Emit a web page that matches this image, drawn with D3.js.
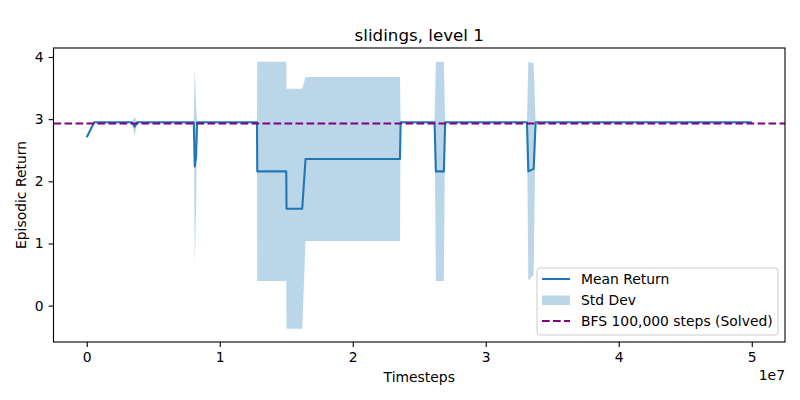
<!DOCTYPE html>
<html>
<head>
<meta charset="utf-8">
<script src="https://cdn.jsdelivr.net/npm/d3@7"></script>
<style>
  body { margin: 0; background: #fff; }
  svg { font-family: "DejaVu Sans", sans-serif; }
</style>
</head>
<body>
<div class="chart"></div>
<script>
// timesteps (x 1e7), mean episodic return, std dev
var steps = [0, 0.056, 0.34, 0.36, 0.38, 0.805, 0.812, 0.822, 0.83, 1.28, 1.282, 1.50, 1.502,
             1.62, 1.645, 2.355, 2.36, 2.615, 2.625, 2.685, 2.695, 3.31, 3.32, 3.36, 3.375, 5.0];
var meanReturn = [2.71, 2.95, 2.95, 2.88, 2.95, 2.95, 2.24, 2.40, 2.95, 2.95, 2.16, 2.16, 1.56,
                  1.56, 2.36, 2.36, 2.95, 2.95, 2.16, 2.16, 2.95, 2.95, 2.16, 2.20, 2.95, 2.95];
var stdDev = [0, 0, 0, 0.15, 0, 0, 1.59, 0.8, 0, 0, 1.765, 1.765, 1.93,
              1.93, 1.32, 1.32, 0, 0, 1.765, 1.765, 0, 0, 1.765, 1.7, 0, 0];
var bfsSolved = 2.93;
var xTicks = [0, 1, 2, 3, 4, 5];
var yTicks = [0, 1, 2, 3, 4];

var width = 800, height = 400;
var margin = {left: 53.5, right: 15, top: 48, bottom: 58};

var data = steps.map(function(s, i){
    return {t: s, m: meanReturn[i], s: stdDev[i]};
});

var svg = d3.select("div.chart")
    .append("svg")
    .attr("width", width)
    .attr("height", height);

var x = d3.scaleLinear()
    .domain([-0.25, 5.25])
    .range([margin.left, width - margin.right]);
var y = d3.scaleLinear()
    .domain([-0.585, 4.145])
    .range([height - margin.bottom, margin.top]);

var blue = "#1f77b4";
var dash = "7.7,3.3";

svg.append("path")
    .datum(data)
    .attr("fill", blue)
    .attr("fill-opacity", 0.3)
    .attr("d", d3.area()
        .x(function(d){return x(d.t);})
        .y0(function(d){return y(d.m - d.s);})
        .y1(function(d){return y(d.m + d.s);}));

svg.append("path")
    .datum(data)
    .attr("fill", "none")
    .attr("stroke", blue)
    .attr("stroke-width", 2.08)
    .attr("stroke-linejoin", "round")
    .attr("d", d3.line()
        .x(function(d){return x(d.t);})
        .y(function(d){return y(d.m);}));

svg.append("line")
    .attr("x1", margin.left)
    .attr("x2", width - margin.right)
    .attr("y1", y(bfsSolved))
    .attr("y2", y(bfsSolved))
    .attr("stroke", "purple")
    .attr("stroke-width", 2.08)
    .attr("stroke-dasharray", dash);

// axes
var xAxis = svg.append("g")
    .attr("transform", "translate(0," + (height - margin.bottom) + ")")
    .call(d3.axisBottom(x).tickValues(xTicks).tickSizeOuter(0).tickSize(4.9).tickPadding(4.9)
        .tickFormat(d3.format("d")));
var yAxis = svg.append("g")
    .attr("transform", "translate(" + margin.left + ",0)")
    .call(d3.axisLeft(y).tickValues(yTicks).tickSizeOuter(0).tickSize(4.9).tickPadding(4.9)
        .tickFormat(d3.format("d")));
[xAxis, yAxis].forEach(function(a){
    a.selectAll("text").attr("font-size", "13.9px").attr("fill", "#000")
        .attr("font-family", "DejaVu Sans");
    a.selectAll("line").attr("stroke", "#000").attr("stroke-width", 1.1);
    a.select(".domain").remove();
});

// frame
svg.append("rect")
    .attr("x", margin.left)
    .attr("y", margin.top)
    .attr("width", width - margin.left - margin.right)
    .attr("height", height - margin.top - margin.bottom)
    .attr("fill", "none")
    .attr("stroke", "#000")
    .attr("stroke-width", 1.1);

svg.append("text")
    .attr("x", (margin.left + width - margin.right) / 2)
    .attr("y", 41)
    .attr("text-anchor", "middle")
    .attr("font-size", "16.7px")
    .text("slidings, level 1");

svg.append("text")
    .attr("x", (margin.left + width - margin.right) / 2)
    .attr("y", 382)
    .attr("text-anchor", "middle")
    .attr("font-size", "13.9px")
    .text("Timesteps");

svg.append("text")
    .attr("transform", "translate(26," + ((margin.top + height - margin.bottom) / 2) + ") rotate(-90)")
    .attr("text-anchor", "middle")
    .attr("font-size", "13.9px")
    .text("Episodic Return");

svg.append("text")
    .attr("x", width - margin.right)
    .attr("y", 380)
    .attr("text-anchor", "end")
    .attr("font-size", "13.9px")
    .text("1e7");

// legend
var legend = svg.append("g").attr("transform", "translate(537,268)");
legend.append("rect")
    .attr("width", 241)
    .attr("height", 67)
    .attr("rx", 3)
    .attr("fill", "#fff")
    .attr("fill-opacity", 0.8)
    .attr("stroke", "#cccccc");
var items = ["Mean Return", "Std Dev", "BFS 100,000 steps (Solved)"];
items.forEach(function(name, i){
    var yy = 11 + i * 21;
    if (i == 1) {
        legend.append("rect")
            .attr("x", 5).attr("y", yy - 4.5)
            .attr("width", 28).attr("height", 9.5)
            .attr("fill", blue).attr("fill-opacity", 0.3);
    } else {
        legend.append("line")
            .attr("x1", 5).attr("x2", 33)
            .attr("y1", yy).attr("y2", yy)
            .attr("stroke", i == 0 ? blue : "purple")
            .attr("stroke-width", 2.08)
            .attr("stroke-dasharray", i == 2 ? dash : null);
    }
    legend.append("text")
        .attr("x", 44)
        .attr("y", yy + 5)
        .attr("font-size", "13.9px")
        .text(name);
});
</script>
</body>
</html>
